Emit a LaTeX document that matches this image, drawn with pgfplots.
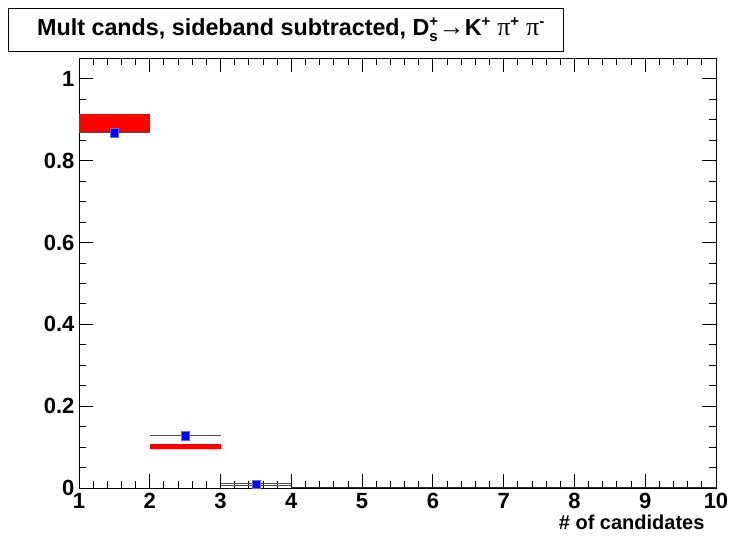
\documentclass[border=0pt]{standalone}
\usepackage{pgfplots}
\pgfplotsset{compat=1.18}
\usepackage{fontspec}
\setmainfont{Liberation Sans}
\newfontfamily\symfont{Liberation Serif}
\newcommand{\sco}[1]{\mbox{\fontsize{15}{15}\selectfont\bfseries #1}}
\newcommand{\gsym}[1]{{\symfont\mdseries\fontsize{26}{26}\selectfont #1}}

\begin{document}
\begin{tikzpicture}
\path[use as bounding box] (0pt,0pt) rectangle (730pt,540pt);
\begin{axis}[
  at={(79pt,52pt)}, anchor=south west,
  scale only axis, width=637pt, height=430pt,
  xmin=1, xmax=10, ymin=0, ymax=1.051,
  xtick={1,2,...,10}, ytick={0,0.2,0.4,0.6,0.8,1},
  yticklabels={0,0.2,0.4,0.6,0.8,1},
  minor x tick num=4, minor y tick num=3,
  major tick length=14pt, minor tick length=7pt,
  tick align=inside, tick pos=both,
  axis line style={black, line width=0.9pt},
  every tick/.style={black, line width=0.9pt},
  /pgf/number format/assume math mode=true,
  ticklabel style={font=\bfseries\fontsize{22}{22}\selectfont},
  xticklabel style={yshift=-2pt},
  yticklabel style={xshift=-1pt},
  clip=false,
]
% sideband-subtracted bands (value +- error), one box per bin
\addplot[fill=red, draw=none] coordinates {(1,0.870) (2,0.870) (2,0.914) (1,0.914)} --cycle;
\addplot[fill=red, draw=none] coordinates {(2,0.096) (3,0.096) (3,0.108) (2,0.108)} --cycle;
\addplot[fill=red, draw=none] coordinates {(3,0.004) (4,0.004) (4,0.008) (3,0.008)} --cycle;
\addplot[red!60!black, line width=0.8pt] coordinates {(4,0.001) (10,0.001)};
% measured fractions with bin-width error bars
\addplot[only marks, mark=square*, mark size=4.2pt,
  mark options={fill=blue, draw=blue!60!white, line width=0.4pt},
  error bars/.cd, x dir=both, x explicit, y dir=both, y explicit,
  error bar style={gray!60!black, line width=1.1pt}, error mark=|,
  error mark options={mark size=0pt}]
  coordinates {
    (1.5,0.868) +- (0.5,0.002)
    (2.5,0.128) +- (0.5,0.002)
    (3.5,0.010) +- (0.5,0.004)
  };
\end{axis}
\draw[black, line width=0.9pt, fill=white] (8pt,489pt) rectangle (563pt,532pt);
\node[font=\bfseries\fontsize{23.3}{23.3}\selectfont] at (291pt,510pt)
  {Mult cands, sideband subtracted, D$^{\sco{+}}_{\sco{s}}$\gsym{\char"2192}K$^{\sco{+}}$ \gsym{π}$^{\sco{+}}$ \gsym{π}$^{\sco{-}}$};
\node[anchor=base east, font=\bfseries\fontsize{20}{20}\selectfont] at (708pt,10pt) {\# of candidates};
\end{tikzpicture}
\end{document}
